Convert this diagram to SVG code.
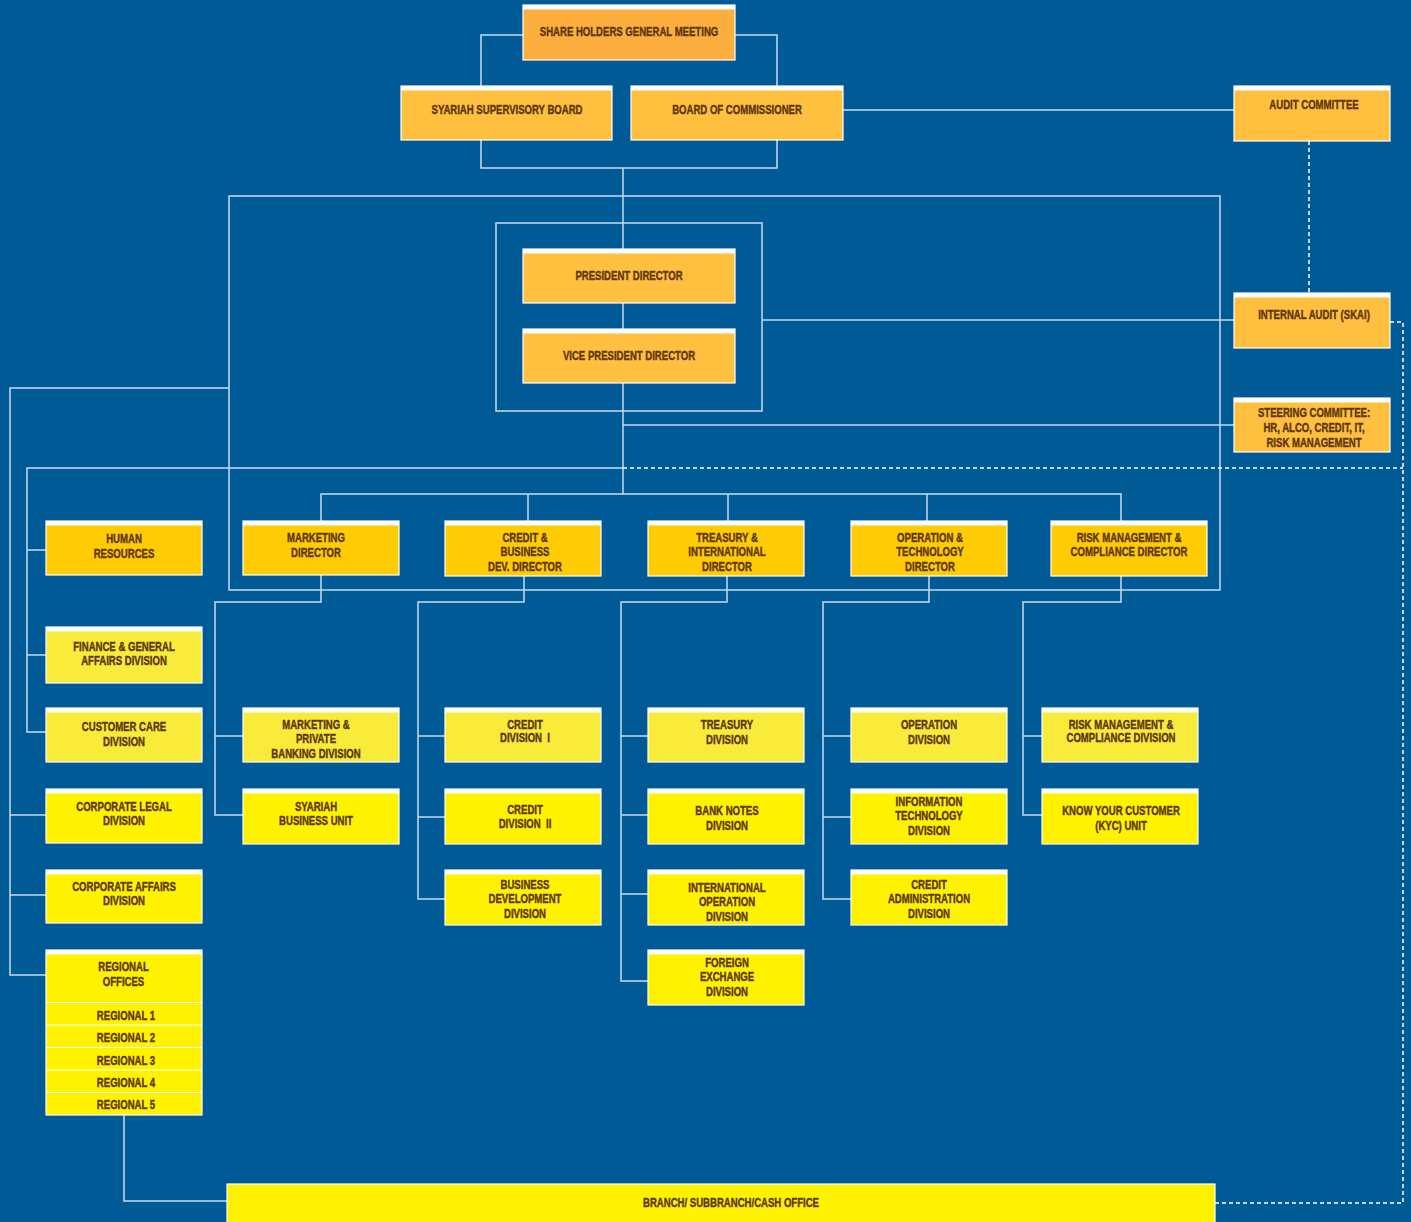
<svg xmlns="http://www.w3.org/2000/svg" width="1411" height="1222" viewBox="0 0 1411 1222">
<style>
.c{fill:none;stroke:#C6DBEC;stroke-width:1.5}
.d{fill:none;stroke:#FFFFFF;stroke-width:1.5;stroke-dasharray:4 3}
.b{stroke:#FFFFFF;stroke-width:1.2}
.or1{fill:#FCAF3F}
.or2{fill:#FFC03F}
.gold{fill:#FFCB05}
.pale{fill:#F8EB3A}
.yel{fill:#FFF200}
.s{fill:#FFFFFF}
.t{font-family:"Liberation Sans",Arial,sans-serif;font-weight:bold;font-size:13.5px;fill:#5E3710;stroke:#5E3710;stroke-width:0.45;text-anchor:middle}
.sep{stroke:#FFFFFF;stroke-width:1.2}
</style>
<rect x="0" y="0" width="1411" height="1222" fill="#005A96"/>

<g id="connectors">
<polyline class="c" points="523,35 481,35 481,86"/>
<polyline class="c" points="735,35 777,35 777,86"/>
<polyline class="c" points="481,140 481,168 777,168 777,140"/>
<line class="c" x1="623" y1="168" x2="623" y2="494"/>
<line class="c" x1="843" y1="110" x2="1234" y2="110"/>
<rect class="c" x="229" y="196" width="991" height="394"/>
<rect class="c" x="496" y="223" width="266" height="188"/>
<line class="c" x1="762" y1="320" x2="1234" y2="320"/>
<line class="c" x1="623" y1="425" x2="1234" y2="425"/>
<polyline class="c" points="229,388 10,388 10,975 46,975"/>
<line class="c" x1="10" y1="815" x2="46" y2="815"/>
<line class="c" x1="10" y1="895" x2="46" y2="895"/>
<polyline class="c" points="623,468 27,468 27,732 46,732"/>
<line class="c" x1="27" y1="550" x2="46" y2="550"/>
<line class="c" x1="27" y1="655" x2="46" y2="655"/>
<line class="d" x1="623" y1="468" x2="1403" y2="468"/>
<polyline class="d" points="1390,322 1403,322 1403,1203 1215,1203"/>
<line class="d" x1="1309" y1="141" x2="1309" y2="293"/>
<polyline class="c" points="321,521 321,494 1121,494 1121,521"/>
<line class="c" x1="528" y1="494" x2="528" y2="521"/>
<line class="c" x1="728" y1="494" x2="728" y2="521"/>
<line class="c" x1="927" y1="494" x2="927" y2="521"/>
<polyline class="c" points="321,575 321,602 215,602 215,815 243,815"/>
<line class="c" x1="215" y1="736" x2="243" y2="736"/>
<polyline class="c" points="524,576 524,602 418,602 418,899 445,899"/>
<line class="c" x1="418" y1="736" x2="445" y2="736"/>
<line class="c" x1="418" y1="817" x2="445" y2="817"/>
<polyline class="c" points="727,576 727,602 621,602 621,981 648,981"/>
<line class="c" x1="621" y1="736" x2="648" y2="736"/>
<line class="c" x1="621" y1="815" x2="648" y2="815"/>
<line class="c" x1="621" y1="894" x2="648" y2="894"/>
<polyline class="c" points="929,576 929,602 823,602 823,899 851,899"/>
<line class="c" x1="823" y1="736" x2="851" y2="736"/>
<line class="c" x1="823" y1="817" x2="851" y2="817"/>
<polyline class="c" points="1121,576 1121,602 1023,602 1023,815 1042,815"/>
<line class="c" x1="1023" y1="736" x2="1042" y2="736"/>
<polyline class="c" points="124,1115 124,1201 227,1201"/>
</g>

<g id="shareholders"><rect class="b or1" x="523" y="5" width="212" height="55"/><rect class="s" x="523" y="5" width="212" height="4.5"/>
<text class="t" transform="translate(629,36) scale(0.71,1)">SHARE HOLDERS GENERAL MEETING</text></g>
<g id="syariah-supervisory-board"><rect class="b or2" x="401" y="86" width="211" height="54"/><rect class="s" x="401" y="86" width="211" height="4.5"/>
<text class="t" transform="translate(507,114) scale(0.71,1)">SYARIAH SUPERVISORY BOARD</text></g>
<g id="board-of-commissioner"><rect class="b or2" x="631" y="86" width="212" height="54"/><rect class="s" x="631" y="86" width="212" height="4.5"/>
<text class="t" transform="translate(737,114) scale(0.71,1)">BOARD OF COMMISSIONER</text></g>
<g id="audit-committee"><rect class="b or2" x="1234" y="86" width="156" height="55"/><rect class="s" x="1234" y="86" width="156" height="4.5"/>
<text class="t" transform="translate(1314,109) scale(0.71,1)">AUDIT COMMITTEE</text></g>
<g id="president-director"><rect class="b or2" x="523" y="249" width="212" height="54"/><rect class="s" x="523" y="249" width="212" height="4.5"/>
<text class="t" transform="translate(629,280) scale(0.71,1)">PRESIDENT DIRECTOR</text></g>
<g id="vice-president-director"><rect class="b or2" x="523" y="329" width="212" height="54"/><rect class="s" x="523" y="329" width="212" height="4.5"/>
<text class="t" transform="translate(629,360) scale(0.71,1)">VICE PRESIDENT DIRECTOR</text></g>
<g id="internal-audit"><rect class="b or2" x="1234" y="293" width="156" height="55"/><rect class="s" x="1234" y="293" width="156" height="4.5"/>
<text class="t" transform="translate(1314,319) scale(0.71,1)">INTERNAL AUDIT (SKAI)</text></g>
<g id="steering-committee"><rect class="b or2" x="1234" y="398" width="156" height="54"/><rect class="s" x="1234" y="398" width="156" height="4.5"/>
<text class="t" transform="translate(1314,417) scale(0.71,1)"><tspan x="0" y="0">STEERING COMMITTEE:</tspan><tspan x="0" y="15">HR, ALCO, CREDIT, IT,</tspan><tspan x="0" y="30">RISK MANAGEMENT</tspan></text></g>

<g id="human-resources"><rect class="b gold" x="46" y="521" width="156" height="54"/><rect class="s" x="46" y="521" width="156" height="4.5"/>
<text class="t" transform="translate(124,543) scale(0.71,1)"><tspan x="0" y="0">HUMAN</tspan><tspan x="0" y="15">RESOURCES</tspan></text></g>
<g id="marketing-director"><rect class="b gold" x="243" y="521" width="156" height="54"/><rect class="s" x="243" y="521" width="156" height="4.5"/>
<text class="t" transform="translate(316,542) scale(0.71,1)"><tspan x="0" y="0">MARKETING</tspan><tspan x="0" y="15">DIRECTOR</tspan></text></g>
<g id="credit-business-director"><rect class="b gold" x="445" y="521" width="156" height="55"/><rect class="s" x="445" y="521" width="156" height="4.5"/>
<text class="t" transform="translate(525,542) scale(0.71,1)"><tspan x="0" y="0">CREDIT &amp;</tspan><tspan x="0" y="14.5">BUSINESS</tspan><tspan x="0" y="29">DEV. DIRECTOR</tspan></text></g>
<g id="treasury-international-director"><rect class="b gold" x="648" y="521" width="156" height="55"/><rect class="s" x="648" y="521" width="156" height="4.5"/>
<text class="t" transform="translate(727,542) scale(0.71,1)"><tspan x="0" y="0">TREASURY &amp;</tspan><tspan x="0" y="14.5">INTERNATIONAL</tspan><tspan x="0" y="29">DIRECTOR</tspan></text></g>
<g id="operation-technology-director"><rect class="b gold" x="851" y="521" width="156" height="55"/><rect class="s" x="851" y="521" width="156" height="4.5"/>
<text class="t" transform="translate(930,542) scale(0.71,1)"><tspan x="0" y="0">OPERATION &amp;</tspan><tspan x="0" y="14.5">TECHNOLOGY</tspan><tspan x="0" y="29">DIRECTOR</tspan></text></g>
<g id="risk-compliance-director"><rect class="b gold" x="1051" y="521" width="156" height="55"/><rect class="s" x="1051" y="521" width="156" height="4.5"/>
<text class="t" transform="translate(1129,542) scale(0.71,1)"><tspan x="0" y="0">RISK MANAGEMENT &amp;</tspan><tspan x="0" y="14.5">COMPLIANCE DIRECTOR</tspan></text></g>

<g id="finance-general-affairs"><rect class="b pale" x="46" y="627" width="156" height="56"/><rect class="s" x="46" y="627" width="156" height="4.5"/>
<text class="t" transform="translate(124,650.5) scale(0.71,1)"><tspan x="0" y="0">FINANCE &amp; GENERAL</tspan><tspan x="0" y="15">AFFAIRS DIVISION</tspan></text></g>
<g id="customer-care"><rect class="b pale" x="46" y="708" width="156" height="54"/><rect class="s" x="46" y="708" width="156" height="4.5"/>
<text class="t" transform="translate(124,731) scale(0.71,1)"><tspan x="0" y="0">CUSTOMER CARE</tspan><tspan x="0" y="15">DIVISION</tspan></text></g>
<g id="corporate-legal"><rect class="b yel" x="46" y="789" width="156" height="54"/><rect class="s" x="46" y="789" width="156" height="4.5"/>
<text class="t" transform="translate(124,810.5) scale(0.71,1)"><tspan x="0" y="0">CORPORATE LEGAL</tspan><tspan x="0" y="15">DIVISION</tspan></text></g>
<g id="corporate-affairs"><rect class="b yel" x="46" y="870" width="156" height="53"/><rect class="s" x="46" y="870" width="156" height="4.5"/>
<text class="t" transform="translate(124,890.5) scale(0.71,1)"><tspan x="0" y="0">CORPORATE AFFAIRS</tspan><tspan x="0" y="15">DIVISION</tspan></text></g>
<g id="regional-offices"><rect class="b yel" x="46" y="950" width="156" height="165"/><rect class="s" x="46" y="950" width="156" height="4.5"/>
<line class="sep" x1="46" y1="1002.5" x2="202" y2="1002.5"/><line class="sep" x1="46" y1="1025" x2="202" y2="1025"/><line class="sep" x1="46" y1="1047.5" x2="202" y2="1047.5"/><line class="sep" x1="46" y1="1070" x2="202" y2="1070"/><line class="sep" x1="46" y1="1092.5" x2="202" y2="1092.5"/>
<text class="t" transform="translate(123.5,971) scale(0.71,1)"><tspan x="0" y="0">REGIONAL</tspan><tspan x="0" y="15">OFFICES</tspan></text>
<text class="t" transform="translate(126,1020) scale(0.71,1)">REGIONAL 1</text>
<text class="t" transform="translate(126,1042.3) scale(0.71,1)">REGIONAL 2</text>
<text class="t" transform="translate(126,1064.6) scale(0.71,1)">REGIONAL 3</text>
<text class="t" transform="translate(126,1086.9) scale(0.71,1)">REGIONAL 4</text>
<text class="t" transform="translate(126,1109.2) scale(0.71,1)">REGIONAL 5</text></g>

<g id="marketing-private-banking"><rect class="b pale" x="243" y="708" width="156" height="54"/><rect class="s" x="243" y="708" width="156" height="4.5"/>
<text class="t" transform="translate(316,729) scale(0.71,1)"><tspan x="0" y="0">MARKETING &amp;</tspan><tspan x="0" y="14.5">PRIVATE</tspan><tspan x="0" y="29">BANKING DIVISION</tspan></text></g>
<g id="syariah-business-unit"><rect class="b yel" x="243" y="789" width="156" height="55"/><rect class="s" x="243" y="789" width="156" height="4.5"/>
<text class="t" transform="translate(316,810.5) scale(0.71,1)"><tspan x="0" y="0">SYARIAH</tspan><tspan x="0" y="15">BUSINESS UNIT</tspan></text></g>

<g id="credit-division-1"><rect class="b pale" x="445" y="708" width="156" height="54"/><rect class="s" x="445" y="708" width="156" height="4.5"/>
<text class="t" transform="translate(525,728.5) scale(0.71,1)"><tspan x="0" y="0">CREDIT</tspan><tspan x="0" y="14">DIVISION&#160; I</tspan></text></g>
<g id="credit-division-2"><rect class="b yel" x="445" y="789" width="156" height="55"/><rect class="s" x="445" y="789" width="156" height="4.5"/>
<text class="t" transform="translate(525,813.5) scale(0.71,1)"><tspan x="0" y="0">CREDIT</tspan><tspan x="0" y="15">DIVISION&#160; II</tspan></text></g>
<g id="business-development"><rect class="b yel" x="445" y="870" width="156" height="55"/><rect class="s" x="445" y="870" width="156" height="4.5"/>
<text class="t" transform="translate(525,889) scale(0.71,1)"><tspan x="0" y="0">BUSINESS</tspan><tspan x="0" y="14.5">DEVELOPMENT</tspan><tspan x="0" y="29">DIVISION</tspan></text></g>

<g id="treasury-division"><rect class="b pale" x="648" y="708" width="156" height="54"/><rect class="s" x="648" y="708" width="156" height="4.5"/>
<text class="t" transform="translate(727,729) scale(0.71,1)"><tspan x="0" y="0">TREASURY</tspan><tspan x="0" y="15">DIVISION</tspan></text></g>
<g id="bank-notes"><rect class="b yel" x="648" y="789" width="156" height="55"/><rect class="s" x="648" y="789" width="156" height="4.5"/>
<text class="t" transform="translate(727,815) scale(0.71,1)"><tspan x="0" y="0">BANK NOTES</tspan><tspan x="0" y="15">DIVISION</tspan></text></g>
<g id="international-operation"><rect class="b yel" x="648" y="870" width="156" height="55"/><rect class="s" x="648" y="870" width="156" height="4.5"/>
<text class="t" transform="translate(727,892) scale(0.71,1)"><tspan x="0" y="0">INTERNATIONAL</tspan><tspan x="0" y="14.5">OPERATION</tspan><tspan x="0" y="29">DIVISION</tspan></text></g>
<g id="foreign-exchange"><rect class="b yel" x="648" y="950" width="156" height="55"/><rect class="s" x="648" y="950" width="156" height="4.5"/>
<text class="t" transform="translate(727,967) scale(0.71,1)"><tspan x="0" y="0">FOREIGN</tspan><tspan x="0" y="14.5">EXCHANGE</tspan><tspan x="0" y="29">DIVISION</tspan></text></g>

<g id="operation-division"><rect class="b pale" x="851" y="708" width="156" height="54"/><rect class="s" x="851" y="708" width="156" height="4.5"/>
<text class="t" transform="translate(929,729) scale(0.71,1)"><tspan x="0" y="0">OPERATION</tspan><tspan x="0" y="15">DIVISION</tspan></text></g>
<g id="information-technology"><rect class="b yel" x="851" y="789" width="156" height="55"/><rect class="s" x="851" y="789" width="156" height="4.5"/>
<text class="t" transform="translate(929,806) scale(0.71,1)"><tspan x="0" y="0">INFORMATION</tspan><tspan x="0" y="14.5">TECHNOLOGY</tspan><tspan x="0" y="29">DIVISION</tspan></text></g>
<g id="credit-administration"><rect class="b yel" x="851" y="870" width="156" height="55"/><rect class="s" x="851" y="870" width="156" height="4.5"/>
<text class="t" transform="translate(929,889) scale(0.71,1)"><tspan x="0" y="0">CREDIT</tspan><tspan x="0" y="14.5">ADMINISTRATION</tspan><tspan x="0" y="29">DIVISION</tspan></text></g>

<g id="risk-compliance-division"><rect class="b pale" x="1042" y="708" width="156" height="54"/><rect class="s" x="1042" y="708" width="156" height="4.5"/>
<text class="t" transform="translate(1121,728.5) scale(0.71,1)"><tspan x="0" y="0">RISK MANAGEMENT &amp;</tspan><tspan x="0" y="14">COMPLIANCE DIVISION</tspan></text></g>
<g id="kyc-unit"><rect class="b yel" x="1042" y="789" width="156" height="55"/><rect class="s" x="1042" y="789" width="156" height="4.5"/>
<text class="t" transform="translate(1121,815) scale(0.71,1)"><tspan x="0" y="0">KNOW YOUR CUSTOMER</tspan><tspan x="0" y="15">(KYC) UNIT</tspan></text></g>

<g id="branch-office"><rect class="b yel" x="227" y="1184" width="988" height="45"/>
<text class="t" transform="translate(731,1207) scale(0.71,1)">BRANCH/ SUBBRANCH/CASH OFFICE</text></g>
</svg>
